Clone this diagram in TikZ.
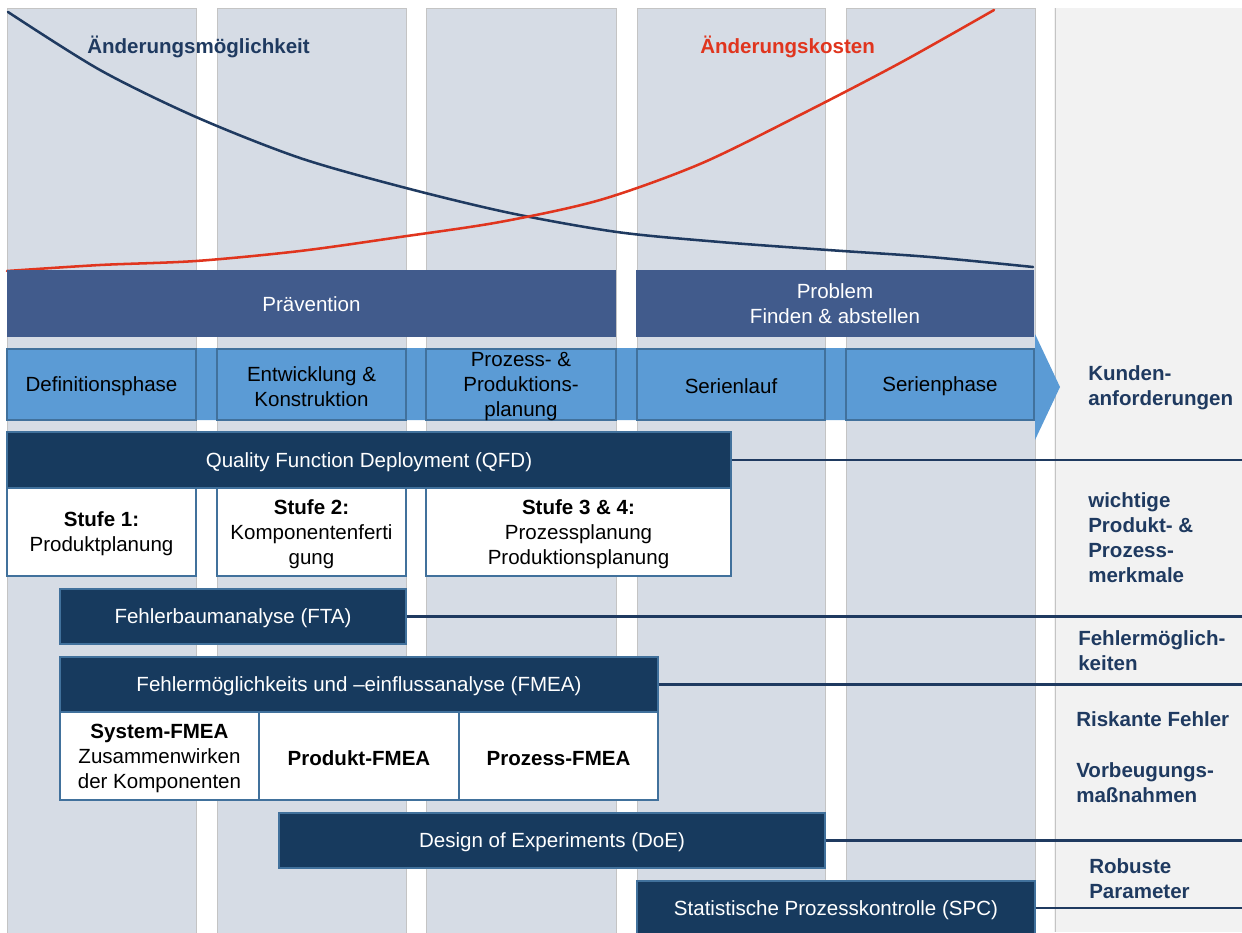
\documentclass[tikz,border=0pt]{standalone}
\usepackage{fontspec}
\setmainfont{Liberation Sans}
\usetikzlibrary{fit}

\definecolor{colfill}{HTML}{D6DCE5}
\definecolor{colline}{HTML}{C4C4C4}
\definecolor{panel}{HTML}{F2F2F2}
\definecolor{prevblue}{HTML}{415B8C}
\definecolor{phaseblue}{HTML}{5B9BD5}
\definecolor{phaseline}{HTML}{41719C}
\definecolor{navy}{HTML}{173A5E}
\definecolor{navytext}{HTML}{1F3A60}
\definecolor{costred}{HTML}{E0351E}

\newcommand{\diagfont}{\fontsize{15.4}{18.75}\selectfont}

\tikzset{
  headbox/.style={fill=prevblue, inner sep=0pt},
  phasebox/.style={draw=phaseline, line width=1.1pt, fill=phaseblue, inner sep=0pt},
  darkbox/.style={fill=navy, draw=phaseline, line width=0.8pt, inner sep=0pt},
  whitebox/.style={fill=white, draw=phaseline, line width=1.1pt, inner sep=0pt},
  lbl/.style={font=\diagfont, align=center, yshift=-1.6pt},
  wlbl/.style={lbl, text=white},
  sidelabel/.style={text=navytext, font=\diagfont\bfseries, align=left, anchor=west, inner sep=0pt, yshift=-1.2pt},
  curvelabel/.style={font=\diagfont\bfseries, anchor=west, inner sep=0pt},
  conn/.style={draw=navytext, line width=1.6pt},
  curve/.style={line width=1.9pt, line cap=round}
}

\begin{document}
\begin{tikzpicture}[x=0.75pt, y=-0.75pt]
  \useasboundingbox (0,0) rectangle (1242,932);
  \fill[white] (0,0) rectangle (1242,932);

  % right-hand result panel
  \fill[panel] (1054,8) rectangle (1242,932);
  \draw[colline, line width=0.75pt] (1055,8) -- (1055,932);

  % phase columns
  \foreach \a/\b in {7/196, 217/406, 426/616, 637/825, 846/1035}
    \draw[fill=colfill, draw=colline, line width=0.75pt] (\a,8) rectangle (\b,940);

  % change possibility (falling) and change cost (rising)
  \draw[curve, navytext] plot[smooth] coordinates {(8,12) (100,70) (196,117) (300,158) (406,188) (510,213) (617,232) (720,242) (828,250) (930,257) (1033,267)};
  \draw[curve, costred] plot[smooth] coordinates {(7,271) (100,265) (196,261) (300,251) (400,237) (500,222) (600,200) (700,164) (800,115) (900,63) (994,10)};

  \node[curvelabel, text=navytext] (lblpos) at (87,47) {Änderungsmöglichkeit};
  \node[curvelabel, text=costred] (lblcost) at (700,47) {Änderungskosten};

  % prevention / problem solving headers
  \node[headbox, fit={(7,270) (616,337)}] (prev) {};
  \node[wlbl, yshift=1.4pt] at (prev.center) {Prävention};
  \node[headbox, fit={(636,270) (1034,337)}] (prob) {};
  \node[wlbl, yshift=1.4pt] at (prob.center) {Problem\\Finden \& abstellen};

  % phase arrow
  \fill[phaseblue] (7,348) -- (1035,348) -- (1035,334) -- (1060,387) -- (1035,440) -- (1035,420) -- (7,420) -- cycle;
  \node[phasebox, fit={(7,349) (196,420)}] (ph1) {};
  \node[phasebox, fit={(217,349) (406,420)}] (ph2) {};
  \node[phasebox, fit={(426,349) (616,420)}] (ph3) {};
  \node[phasebox, fit={(637,349) (825,420)}] (ph4) {};
  \node[phasebox, fit={(846,349) (1034,420)}] (ph5) {};
  \node[lbl] at (ph1.center) {Definitionsphase};
  \node[lbl] at (ph2.center) {Entwicklung \&\\Konstruktion};
  \node[lbl] at (ph3.center) {Prozess- \&\\Produktions-\\planung};
  \node[lbl] at (ph4.center) {Serienlauf};
  \node[lbl] at (ph5.center) {Serienphase};

  % QFD
  \node[darkbox, fit={(7,432) (731,488)}] (qfd) {};
  \node[wlbl] at (qfd.center) {Quality Function Deployment (QFD)};
  \node[whitebox, fit={(7,488) (196,576)}] (st1) {};
  \node[lbl] at (st1.center) {\textbf{Stufe 1:}\\Produktplanung};
  \node[whitebox, fit={(217,488) (406,576)}] (st2) {};
  \node[lbl] at (st2.center) {\textbf{Stufe 2:}\\Komponentenferti\\gung};
  \node[whitebox, fit={(426,488) (731,576)}] (st3) {};
  \node[lbl] at (st3.center) {\textbf{Stufe 3 \& 4:}\\Prozessplanung\\Produktionsplanung};

  % FTA
  \node[darkbox, fit={(60,589) (406,644)}] (fta) {};
  \node[wlbl] at (fta.center) {Fehlerbaumanalyse (FTA)};

  % FMEA
  \node[darkbox, fit={(60,657) (658,712)}] (fmea) {};
  \node[wlbl] at (fmea.center) {Fehlermöglichkeits und –einflussanalyse (FMEA)};
  \node[whitebox, fit={(60,712) (259,800)}] (fm1) {};
  \node[lbl] at (fm1.center) {\textbf{System-FMEA}\\Zusammenwirken\\der Komponenten};
  \node[whitebox, fit={(259,712) (459,800)}] (fm2) {};
  \node[lbl, font=\diagfont\bfseries] at (fm2.center) {Produkt-FMEA};
  \node[whitebox, fit={(459,712) (658,800)}] (fm3) {};
  \node[lbl, font=\diagfont\bfseries] at (fm3.center) {Prozess-FMEA};

  % DoE and SPC
  \node[darkbox, fit={(279,813) (825,868)}] (doe) {};
  \node[wlbl] at (doe.center) {Design of Experiments (DoE)};
  \node[darkbox, fit={(637,881) (1035,935)}] (spc) {};
  \node[wlbl] at (spc.center) {Statistische Prozesskontrolle (SPC)};

  % connectors to the right edge
  \coordinate (qfdEnd) at (1242,459);
  \coordinate (ftaEnd) at (1242,615);
  \coordinate (fmeaEnd) at (1242,683);
  \coordinate (doeEnd) at (1242,840);
  \coordinate (spcEnd) at (1242,908);
  \draw[conn] (qfd.east) -- (qfd.east -| qfdEnd);
  \draw[conn] (fta.east) -- (fta.east -| ftaEnd);
  \draw[conn] (fmea.east) -- (fmea.east -| fmeaEnd);
  \draw[conn] (doe.east) -- (doe.east -| doeEnd);
  \draw[conn] (spc.east) -- (spc.east -| spcEnd);

  % results
  \node[sidelabel] (res1) at (1088,386) {Kunden-\\anforderungen};
  \node[sidelabel] (res2) at (1088,536) {wichtige\\Produkt- \&\\Prozess-\\merkmale};
  \node[sidelabel] (res3) at (1078,649) {Fehlermöglich-\\keiten};
  \node[sidelabel] (res4) at (1076,718) {Riskante Fehler};
  \node[sidelabel] (res5) at (1076,781) {Vorbeugungs-\\maßnahmen};
  \node[sidelabel] (res6) at (1089,877) {Robuste\\Parameter};
\end{tikzpicture}
\end{document}
